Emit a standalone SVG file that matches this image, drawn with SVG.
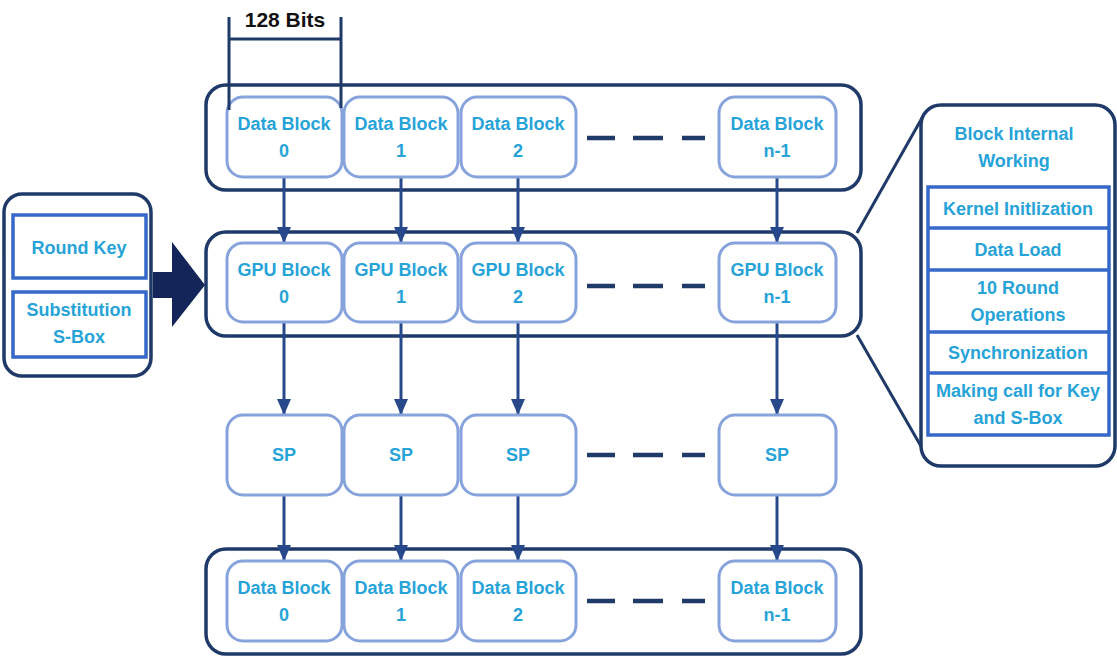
<svg xmlns="http://www.w3.org/2000/svg" width="1117" height="658" viewBox="0 0 1117 658">
<defs>
<style>
.outer{fill:#ffffff;stroke:#1f3a68;stroke-width:3.5}
.blk{fill:#ffffff;stroke:#87a3dc;stroke-width:3}
.t{font-family:"Liberation Sans",Arial,sans-serif;font-weight:bold;font-size:18px;fill:#27a3d8;text-anchor:middle}
.conn{stroke:#27488a;stroke-width:3;fill:none}
.dash{stroke:#1f3a68;stroke-width:4.5;fill:none}
.box{fill:#ffffff;stroke:#3568c8;stroke-width:3.5}
</style>
<marker id="ah" viewBox="0 0 16 14" refX="16" refY="7" markerWidth="16" markerHeight="14" markerUnits="userSpaceOnUse" orient="auto">
<path d="M0,0 L16,7 L0,14 Z" fill="#27488a"/>
</marker>
</defs>
<rect width="1117" height="658" fill="#ffffff"/>

<!-- containers -->
<g id="row1"><rect class="outer" x="206" y="85" width="655" height="105" rx="20"/></g>
<g id="row2"><rect class="outer" x="206" y="232" width="655" height="104" rx="20"/></g>
<g id="row4"><rect class="outer" x="206" y="549" width="655" height="105" rx="20"/></g>

<!-- connectors -->
<g id="connectors">
<line class="conn" x1="284" y1="177" x2="284" y2="243" marker-end="url(#ah)"/>
<line class="conn" x1="401" y1="177" x2="401" y2="243" marker-end="url(#ah)"/>
<line class="conn" x1="518" y1="177" x2="518" y2="243" marker-end="url(#ah)"/>
<line class="conn" x1="777" y1="177" x2="777" y2="243" marker-end="url(#ah)"/>
<line class="conn" x1="284" y1="322" x2="284" y2="415" marker-end="url(#ah)"/>
<line class="conn" x1="401" y1="322" x2="401" y2="415" marker-end="url(#ah)"/>
<line class="conn" x1="518" y1="322" x2="518" y2="415" marker-end="url(#ah)"/>
<line class="conn" x1="777" y1="322" x2="777" y2="415" marker-end="url(#ah)"/>
<line class="conn" x1="284" y1="495" x2="284" y2="561" marker-end="url(#ah)"/>
<line class="conn" x1="401" y1="495" x2="401" y2="561" marker-end="url(#ah)"/>
<line class="conn" x1="518" y1="495" x2="518" y2="561" marker-end="url(#ah)"/>
<line class="conn" x1="777" y1="495" x2="777" y2="561" marker-end="url(#ah)"/>
<path d="M857,233 L922,118 M857,335 L922,448" stroke="#1f3a68" stroke-width="3" fill="none"/>
<path d="M153,272 H172 V242 L205,285 L172,327 V298 H153 Z" fill="#14255a"/>
<path class="dash" d="M587,138 H615 M633,138 H663 M682,138 H705"/>
<path class="dash" d="M587,286 H615 M633,286 H663 M682,286 H705"/>
<path class="dash" d="M587,455 H615 M633,455 H663 M682,455 H705"/>
<path class="dash" d="M587,601 H615 M633,601 H663 M682,601 H705"/>
</g>

<!-- Row 1 data blocks -->
<g id="db0"><rect class="blk" x="227" y="97" width="115" height="80" rx="16"/><text class="t" x="284" y="130">Data Block</text><text class="t" x="284" y="157">0</text></g>
<g id="db1"><rect class="blk" x="344" y="97" width="114" height="80" rx="16"/><text class="t" x="401" y="130">Data Block</text><text class="t" x="401" y="157">1</text></g>
<g id="db2"><rect class="blk" x="461" y="97" width="115" height="80" rx="16"/><text class="t" x="518" y="130">Data Block</text><text class="t" x="518" y="157">2</text></g>
<g id="dbn"><rect class="blk" x="719" y="97" width="117" height="80" rx="16"/><text class="t" x="777" y="130">Data Block</text><text class="t" x="777" y="157">n-1</text></g>

<!-- 128 bits bracket -->
<g id="bits">
<path d="M229,17 V110 M341,17 V108 M229,39 H341" stroke="#1f3a68" stroke-width="3" fill="none"/>
<text x="285" y="27" font-family="'Liberation Sans',Arial,sans-serif" font-weight="bold" font-size="21" fill="#111111" text-anchor="middle">128 Bits</text>
</g>

<!-- Row 2 GPU blocks -->
<g id="gpu0"><rect class="blk" x="227" y="243" width="115" height="79" rx="16"/><text class="t" x="284" y="276">GPU Block</text><text class="t" x="284" y="303">0</text></g>
<g id="gpu1"><rect class="blk" x="344" y="243" width="114" height="79" rx="16"/><text class="t" x="401" y="276">GPU Block</text><text class="t" x="401" y="303">1</text></g>
<g id="gpu2"><rect class="blk" x="461" y="243" width="115" height="79" rx="16"/><text class="t" x="518" y="276">GPU Block</text><text class="t" x="518" y="303">2</text></g>
<g id="gpun"><rect class="blk" x="719" y="243" width="117" height="79" rx="16"/><text class="t" x="777" y="276">GPU Block</text><text class="t" x="777" y="303">n-1</text></g>

<!-- SP row -->
<g id="sp0"><rect class="blk" x="227" y="415" width="115" height="80" rx="16"/><text class="t" x="284" y="461">SP</text></g>
<g id="sp1"><rect class="blk" x="344" y="415" width="114" height="80" rx="16"/><text class="t" x="401" y="461">SP</text></g>
<g id="sp2"><rect class="blk" x="461" y="415" width="115" height="80" rx="16"/><text class="t" x="518" y="461">SP</text></g>
<g id="spn"><rect class="blk" x="719" y="415" width="117" height="80" rx="16"/><text class="t" x="777" y="461">SP</text></g>

<!-- Row 4 data blocks -->
<g id="ob0"><rect class="blk" x="227" y="561" width="115" height="80" rx="16"/><text class="t" x="284" y="594">Data Block</text><text class="t" x="284" y="621">0</text></g>
<g id="ob1"><rect class="blk" x="344" y="561" width="114" height="80" rx="16"/><text class="t" x="401" y="594">Data Block</text><text class="t" x="401" y="621">1</text></g>
<g id="ob2"><rect class="blk" x="461" y="561" width="115" height="80" rx="16"/><text class="t" x="518" y="594">Data Block</text><text class="t" x="518" y="621">2</text></g>
<g id="obn"><rect class="blk" x="719" y="561" width="117" height="80" rx="16"/><text class="t" x="777" y="594">Data Block</text><text class="t" x="777" y="621">n-1</text></g>

<!-- Left key box -->
<g id="keys">
<rect class="outer" x="4" y="194" width="147" height="182" rx="18"/>
<rect class="box" x="13" y="215" width="133" height="63"/>
<text class="t" x="79" y="254">Round Key</text>
<rect class="box" x="13" y="292" width="133" height="65"/>
<text class="t" x="79" y="316">Substitution</text>
<text class="t" x="79" y="343">S-Box</text>
</g>

<!-- Right internal working box -->
<g id="internal">
<rect class="outer" x="921" y="105" width="194" height="361" rx="20"/>
<text class="t" x="1014" y="140">Block Internal</text>
<text class="t" x="1014" y="167">Working</text>
<rect class="box" x="928" y="187" width="181" height="248"/>
<path d="M928,228 H1109 M928,270 H1109 M928,332 H1109 M928,373 H1109" stroke="#3568c8" stroke-width="3.5"/>
<text class="t" x="1018" y="215">Kernel Initlization</text>
<text class="t" x="1018" y="256">Data Load</text>
<text class="t" x="1018" y="294">10 Round</text>
<text class="t" x="1018" y="321">Operations</text>
<text class="t" x="1018" y="359">Synchronization</text>
<text class="t" x="1018" y="397">Making call for Key</text>
<text class="t" x="1018" y="424">and S-Box</text>
</g>
</svg>
